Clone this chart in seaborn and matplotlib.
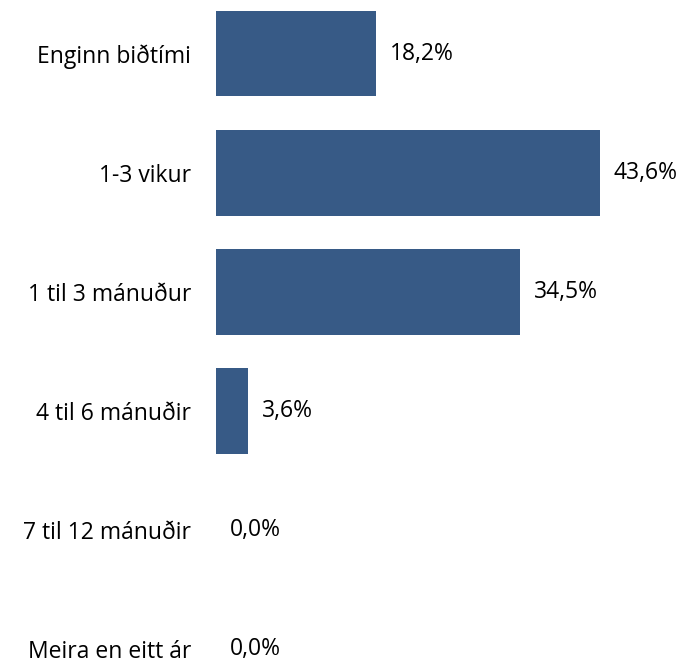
import matplotlib
matplotlib.use('Agg')
import matplotlib.pyplot as plt
import seaborn as sns
import pandas as pd

# Gögn lesin af myndinni
flokkar = ['Enginn biðtími', '1-3 vikur', '1 til 3 mánuður', '4 til 6 mánuðir',
           '7 til 12 mánuðir', 'Meira en eitt ár']
hlutfall = [18.2, 43.6, 34.5, 3.6, 0.0, 0.0]

df = pd.DataFrame({'flokkur': flokkar, 'hlutfall': hlutfall})

sns.set_style('white')
plt.rcParams['font.family'] = ['Open Sans', 'DejaVu Sans']

fig = plt.figure(figsize=(6.88, 6.67), dpi=100)
ax = fig.add_axes([216 / 688, 0, 472 / 688, 1])

sns.barplot(data=df, x='hlutfall', y='flokkur', color='#375A86', saturation=1,
            width=0.72, linewidth=0, ax=ax)

ax.set_xlim(0, 53.6)
ax.set_ylim(5.15, -0.45)
ax.set_xlabel('')
ax.set_ylabel('')
ax.set_xticks([])
sns.despine(ax=ax, left=True, bottom=True)
ax.tick_params(axis='y', length=0, pad=18, labelsize=16.5, labelcolor='black')

for i, v in enumerate(hlutfall):
    ax.annotate(f'{v:.1f}%'.replace('.', ','), xy=(v, i), xytext=(14, 0),
                textcoords='offset pixels', va='center', ha='left', fontsize=16.5,
                color='black')

fig.savefig('out.png', dpi=100)
